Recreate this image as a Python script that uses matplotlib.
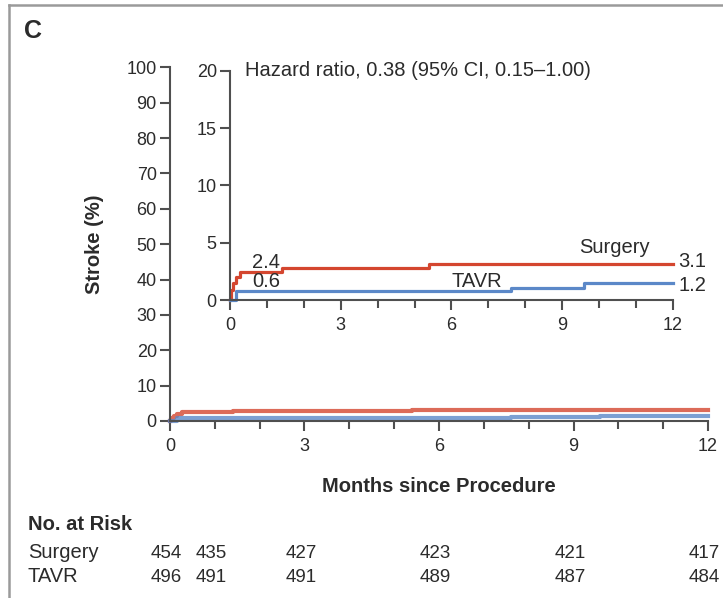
import numpy as np
import matplotlib
matplotlib.use("Agg")
import matplotlib.pyplot as plt
from matplotlib.ticker import MultipleLocator
import matplotlib.transforms as mtransforms
from matplotlib.lines import Line2D

plt.rcParams['font.family'] = ['Liberation Sans', 'DejaVu Sans']

# Kaplan-Meier style step data (months, cumulative stroke %)
surgery_t = [0, 0.03, 0.08, 0.15, 0.27, 1.4, 5.4, 12]
surgery_v = [0, 0.9, 1.5, 2.0, 2.45, 2.8, 3.1, 3.1]
tavr_t = [0, 0.15, 7.6, 9.6, 12]
tavr_v = [0, 0.8, 1.05, 1.45, 1.45]

risk_months = [0, 1, 3, 6, 9, 12]
risk_surgery = [454, 435, 427, 423, 421, 417]
risk_tavr = [496, 491, 491, 489, 487, 484]

RED = '#d4462f'
BLUE = '#5b88c8'
AXC = '#4f4f4f'
TXT = '#2b2b2b'
FS = 13      # tick labels / numbers
FSW = 14.5   # words

fig = plt.figure(figsize=(7.23, 5.98), dpi=100)


def style_axes(ax):
    for s in ['top', 'right']:
        ax.spines[s].set_visible(False)
    for s in ['left', 'bottom']:
        ax.spines[s].set_color(AXC)
        ax.spines[s].set_linewidth(1.5)
    ax.xaxis.set_major_locator(MultipleLocator(3))
    ax.xaxis.set_minor_locator(MultipleLocator(1))
    ax.tick_params(which='major', direction='out', length=7.5, width=1.5,
                   color=AXC, labelsize=FS, labelcolor=TXT)
    ax.tick_params(which='minor', direction='out', length=6, width=1.5,
                   color=AXC)
    ax.tick_params(axis='y', which='major', pad=2)
    ax.tick_params(axis='x', which='major', pad=4.5)
    ax.set_xlim(0, 12)


# main axes
ax = fig.add_axes([0.2351, 0.2960, 0.9793 - 0.2351, 0.8875 - 0.2960])
style_axes(ax)
ax.set_ylim(0, 100)
ax.yaxis.set_major_locator(MultipleLocator(10))
ax.step(surgery_t, surgery_v, where='post', color=RED, lw=3, alpha=0.8,
        clip_on=False)
ax.step(tavr_t, tavr_v, where='post', color=BLUE, lw=3, alpha=0.8,
        clip_on=False)
ax.set_ylabel('Stroke (%)', fontsize=FSW, fontweight='bold', color=TXT,
              labelpad=16)
ax.set_xlabel('Months since Procedure', fontsize=FSW, fontweight='bold',
              color=TXT, labelpad=16)

# inset axes
ins = fig.add_axes([0.3181, 0.4983, 0.9308 - 0.3181, 0.8818 - 0.4983])
style_axes(ins)
ins.set_ylim(0, 20)
ins.yaxis.set_major_locator(MultipleLocator(5))
ins.step(surgery_t, surgery_v, where='post', color=RED, lw=2.3, clip_on=False)
ins.step(tavr_t, tavr_v, where='post', color=BLUE, lw=2.3, clip_on=False)

ins.text(0.4, 20, 'Hazard ratio, 0.38 (95% CI, 0.15\u20131.00)', fontsize=FSW,
         color=TXT, va='center', ha='left')
ins.text(0.6, 3.3, '2.4', fontsize=FSW, color=TXT, va='center', ha='left')
ins.text(0.6, 1.65, '0.6', fontsize=FSW, color=TXT, va='center', ha='left')
ins.text(9.45, 4.55, 'Surgery', fontsize=FSW, color=TXT, va='center',
         ha='left')
ins.text(6.0, 1.6, 'TAVR', fontsize=FSW, color=TXT, va='center', ha='left')
ins.text(12.15, 3.4, f'{surgery_v[-1]:.1f}', fontsize=FSW, color=TXT,
         va='center', ha='left', clip_on=False)
ins.text(12.15, 1.3, '1.2', fontsize=FSW, color=TXT, va='center', ha='left',
         clip_on=False)

# panel letter and border
fig.text(24 / 723, 1 - 31 / 598, 'C', fontsize=18, fontweight='bold',
         color=TXT, va='center', ha='left')
fig.add_artist(Line2D([9 / 723, 1], [1 - 5 / 598, 1 - 5 / 598],
                      transform=fig.transFigure, color='#9a9a9a', lw=1.8))
fig.add_artist(Line2D([9 / 723, 9 / 723], [0, 1 - 5 / 598],
                      transform=fig.transFigure, color='#9a9a9a', lw=1.8))

# numbers at risk
trans = mtransforms.blended_transform_factory(ax.transData, fig.transFigure)
fig.text(28 / 723, 1 - 525 / 598, 'No. at Risk', fontsize=FSW,
         fontweight='bold', color=TXT, va='center', ha='left')
fig.text(28 / 723, 1 - 553 / 598, 'Surgery', fontsize=FSW, color=TXT,
         va='center', ha='left')
fig.text(28 / 723, 1 - 577 / 598, 'TAVR', fontsize=FSW, color=TXT,
         va='center', ha='left')
for m, s, t in zip(risk_months, risk_surgery, risk_tavr):
    ax.text(m - 0.08, 1 - 553 / 598, str(s), transform=trans, fontsize=13.5,
            color=TXT, va='center', ha='center', clip_on=False)
    ax.text(m - 0.08, 1 - 577 / 598, str(t), transform=trans, fontsize=13.5,
            color=TXT, va='center', ha='center', clip_on=False)

fig.savefig('out.png', dpi=100)
